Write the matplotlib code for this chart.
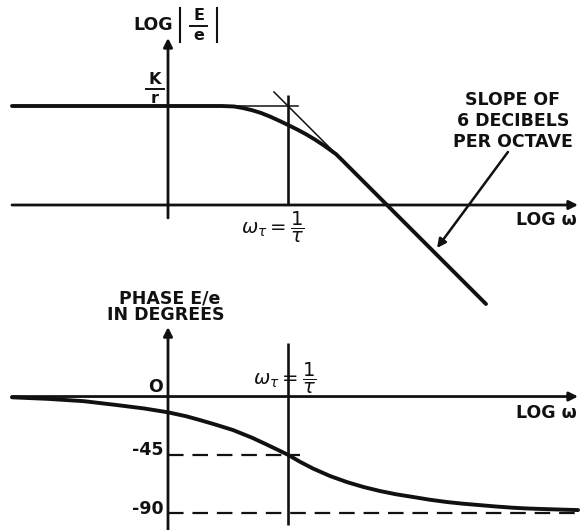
import matplotlib
matplotlib.use("Agg")
import matplotlib.pyplot as plt

plt.rcParams['font.family'] = ['DejaVu Sans']
plt.rcParams['mathtext.fontset'] = 'dejavusans'

# log of angular frequency, in decades relative to the break frequency 1/tau
mag_logw = [-2.3, -0.55, -0.45, -0.375, -0.3, -0.225, -0.15, -0.075, 0.0,
            0.075, 0.15, 0.225, 0.3, 0.35, 0.4, 0.45, 1.65]
# log |E/e| (one unit per decade, so the asymptote falls 6 dB per octave)
mag_log = [0.825, 0.825, 0.821, 0.808, 0.79, 0.767, 0.737, 0.703, 0.667,
           0.630, 0.590, 0.545, 0.496, 0.46, 0.424, 0.375, -0.825]

# K/r level and the straight-line asymptote
k_over_r = 0.825
asym_logw = [-0.117, 1.65]
asym_log = [0.942, -0.825]

# phase of E/e in degrees
phase_logw = [-2.3, -2.0, -1.7, -1.425, -1.2, -1.0, -0.85, -0.733, -0.6,
              -0.458, -0.3, -0.175, -0.085, 0.0, 0.1, 0.208, 0.35, 0.492,
              0.63, 0.767, 0.9, 1.042, 1.18, 1.325, 1.46, 1.6, 1.74, 1.875,
              2.0, 2.158, 2.3, 2.417]
phase_deg = [-0.6, -1.8, -3.6, -6.6, -9.2, -12.2, -15.2, -18.2, -21.8,
             -25.9, -31.8, -37.2, -41.2, -45.0, -50.4, -55.6, -61.4, -66.1,
             -69.9, -73.0, -75.5, -77.6, -79.7, -81.5, -82.8, -83.9, -85.0,
             -85.9, -86.5, -87.0, -87.4, -87.7]
phase_ticks = [0, -45, -90]
phase_tick_labels = ["O", "-45", "-90"]

W, H = 584, 530
fig = plt.figure(figsize=(W / 100, H / 100), dpi=100)
fig.patch.set_facecolor('white')

ax1 = fig.add_axes([0, 0.5, 1, 0.5])
ax2 = fig.add_axes([0, 0, 1, 0.5])
for ax in (ax1, ax2):
    ax.set_axis_off()
    ax.set_xlim(-2.4, 2.4667)
ax1.set_ylim(-0.5, 1.7083)
ax2.set_ylim(-103.1, 101.6)

ink = '#111111'
fs = 12.5
txt = dict(color=ink, fontsize=fs, fontweight='bold', ha='center', va='center')
head = dict(arrowstyle='-|>', color=ink, lw=2.0, mutation_scale=13,
            shrinkA=0, shrinkB=0)
break_label = r"$\omega_\tau = \dfrac{1}{\tau}$"

# ---------------- magnitude plot ----------------
x_left, x_right = -2.3, 2.417
ax1.annotate('', xy=(x_right, 0), xytext=(x_left, 0), arrowprops=head,
             annotation_clip=False)
ax1.annotate('', xy=(-1.0, 1.392), xytext=(-1.0, -0.108), arrowprops=head,
             annotation_clip=False)
ax1.plot([0, 0], [0, 0.917], color=ink, lw=1.9, solid_capstyle='butt')
ax1.plot([x_left, 0.083], [k_over_r, k_over_r], color=ink, lw=1.1)
ax1.plot(asym_logw, asym_log, color=ink, lw=1.1, clip_on=False)
ax1.plot(mag_logw, mag_log, color=ink, lw=2.8, clip_on=False,
         solid_joinstyle='round', solid_capstyle='round')

ax1.text(-1.125, 1.5, "LOG", **txt)
ax1.text(-0.745, 1.575, "E", **{**txt, 'fontsize': 11.5})
ax1.text(-0.745, 1.41, "e", **{**txt, 'fontsize': 11.5})
ax1.plot([-0.815, -0.675], [1.492, 1.492], color=ink, lw=1.4)
for bx in (-0.9, -0.595):
    ax1.plot([bx, bx], [1.36, 1.645], color=ink, lw=1.5)

ax1.text(-1.108, 1.045, "K", **{**txt, 'fontsize': 11.5})
ax1.plot([-1.183, -1.033], [0.967, 0.967], color=ink, lw=1.4)
ax1.text(-1.108, 0.885, "r", **{**txt, 'fontsize': 11.5})

ax1.text(-0.13, -0.19, break_label, color=ink, fontsize=14,
         ha='center', va='center')

for line, yy in zip(["SLOPE OF", "6 DECIBELS", "PER OCTAVE"],
                    [0.875, 0.7, 0.525]):
    ax1.text(1.875, yy, line, **txt)
ax1.annotate('', xy=(1.242, -0.358), xytext=(1.833, 0.442),
             arrowprops=dict(arrowstyle='-|>', color=ink, lw=1.8,
                             mutation_scale=13, shrinkA=0, shrinkB=0),
             annotation_clip=False)
ax1.text(2.15, -0.125, "LOG ω", **txt)

# ---------------- phase plot ----------------
ax2.annotate('', xy=(x_right, 0), xytext=(x_left, 0), arrowprops=head,
             annotation_clip=False)
ax2.annotate('', xy=(-1.0, 53.7), xytext=(-1.0, -110), arrowprops=head,
             annotation_clip=False)
ax2.plot([0, 0], [41.3, -99.3], color=ink, lw=1.9, solid_capstyle='butt')
ax2.plot([-1.0, 0.1], [-45, -45], color=ink, lw=1.6, dashes=(7, 4))
ax2.plot([-1.0, x_right], [-90, -90], color=ink, lw=1.6, dashes=(7, 4))
ax2.plot(phase_logw, phase_deg, color=ink, lw=2.8,
         solid_joinstyle='round', solid_capstyle='round')

ax2.text(-0.983, 76.1, "PHASE E/e", **txt)
ax2.text(-1.017, 63.0, "IN DEGREES", **txt)
ax2.text(-1.1, 7.3, phase_tick_labels[0], **txt)
for val, lab in zip(phase_ticks[1:], phase_tick_labels[1:]):
    ax2.text(-1.035, val + 3.5, lab, **{**txt, 'ha': 'right'})
ax2.text(-0.03, 14.0, break_label, color=ink, fontsize=14,
         ha='center', va='center')
ax2.text(2.15, -12.7, "LOG ω", **txt)

fig.savefig("out.png", dpi=100, facecolor='white')
